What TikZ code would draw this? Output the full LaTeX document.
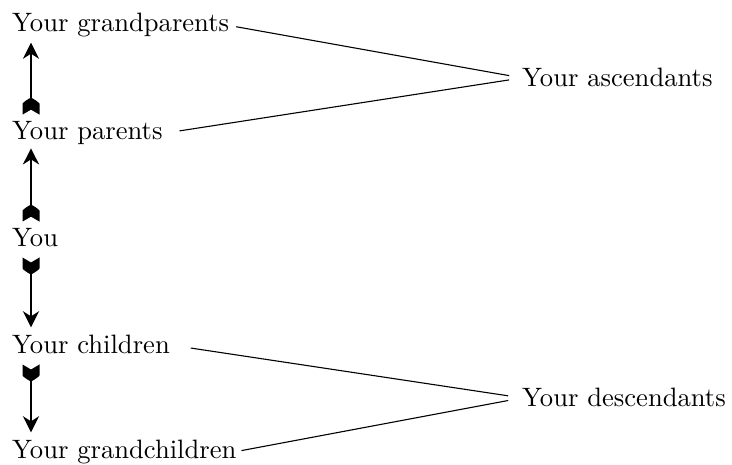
\documentclass[tikz,border=0pt]{standalone}
\usepackage{fontspec}
\setmainfont{lmroman10-regular.otf}
\usetikzlibrary{arrows.meta}

% Feathered tail for the start of an arrow: notched back, pointed front.
\pgfdeclarearrow{
  name = Fletch,
  setup code = {
    \pgfarrowssettipend{0pt}
    \pgfarrowssetbackend{-17pt}
    \pgfarrowssetlineend{-12pt}
    \pgfarrowssetvisualbackend{-17pt}
  },
  drawing code = {
    \pgfpathmoveto{\pgfqpoint{0pt}{8.5pt}}
    \pgfpathlineto{\pgfqpoint{-5pt}{0pt}}
    \pgfpathlineto{\pgfqpoint{0pt}{-8.5pt}}
    \pgfpathlineto{\pgfqpoint{-11pt}{-8.5pt}}
    \pgfpathcurveto{\pgfqpoint{-13pt}{-7pt}}{\pgfqpoint{-15.5pt}{-3pt}}{\pgfqpoint{-17pt}{0pt}}
    \pgfpathcurveto{\pgfqpoint{-15.5pt}{3pt}}{\pgfqpoint{-13pt}{7pt}}{\pgfqpoint{-11pt}{8.5pt}}
    \pgfpathclose
    \pgfusepathqfill
  }
}

\tikzset{
  label/.style={font=\fontsize{26.6}{30}\selectfont, inner sep=0pt, anchor=base west},
  lineage/.style={line width=2.8pt, {Fletch}-{Stealth[length=16pt,width=16pt,inset=5pt]}},
  link/.style={line width=1.1pt}
}

\begin{document}
\begin{tikzpicture}[x=1pt, y=-1pt]
  \useasboundingbox (0,0) rectangle (732,465);

  % generations
  \node[label] (gp)   at (12,32)  {Your grandparents};
  \node[label] (par)  at (12,140) {Your parents};
  \node[label] (you)  at (12,247) {You};
  \node[label] (ch)   at (12,354) {Your children};
  \node[label] (gch)  at (12,458) {Your grandchildren};

  % groupings
  \node[label] (asc)  at (522,87)  {Your ascendants};
  \node[label] (desc) at (522,407) {Your descendants};

  % vertical axis for the arrows
  \coordinate (ax) at (31,0);

  % arrows between generations
  \draw[lineage, shorten <=7pt, shorten >=5pt] (par.north -| ax) -- (gp.south -| ax);
  \draw[lineage, shorten <=7pt, shorten >=3pt] (you.north -| ax) -- (par.south -| ax);
  \draw[lineage, shorten <=10pt, shorten >=8pt] (you.south -| ax) -- (ch.north -| ax);
  \draw[lineage, shorten <=10pt, shorten >=7pt] (ch.south -| ax) -- (gch.north -| ax);

  % bracketing lines
  \draw[link, shorten <=7pt,  shorten >=13pt] (gp.east)  -- (asc.west);
  \draw[link, shorten <=17pt, shorten >=13pt] (par.east) -- (asc.west);
  \draw[link, shorten <=21pt, shorten >=14pt] (ch.east)  -- (desc.west);
  \draw[link, shorten <=5pt,  shorten >=14pt] (gch.east) -- (desc.west);
\end{tikzpicture}
\end{document}
